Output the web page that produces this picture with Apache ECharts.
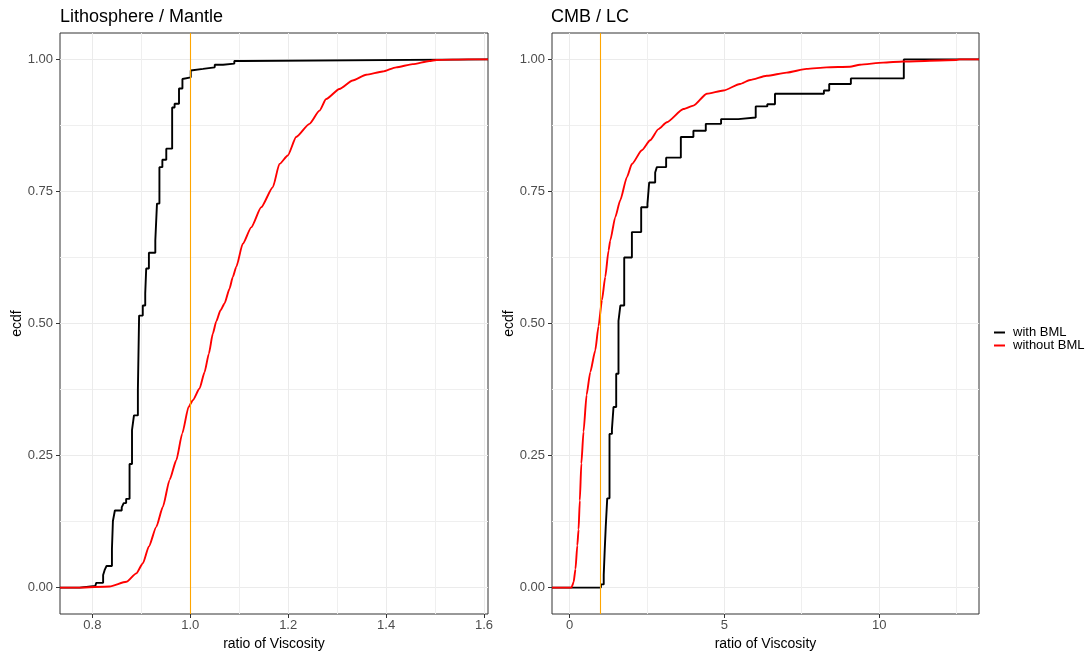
<!DOCTYPE html>
<html><head><meta charset="utf-8">
<script src="https://cdn.jsdelivr.net/npm/echarts@6/dist/echarts.min.js"></script>
<style>html,body{margin:0;padding:0;background:#fff}#c{width:1092px;height:654px}</style>
</head><body><div id="c"></div>
<script>
// ---- texts ----
const panelTitles = ['Lithosphere / Mantle', 'CMB / LC'];
const seriesNames = ['with BML', 'without BML'];
const xTitle = 'ratio of Viscosity';
const yTitle = 'ecdf';

// ---- ticks ----
const yTicks = [0, 0.25, 0.5, 0.75, 1];
const yMinor = [0.125, 0.375, 0.625, 0.875];
const leftXTicks = [0.8, 1.0, 1.2, 1.4, 1.6];
const leftXMinor = [0.9, 1.1, 1.3, 1.5];
const rightXTicks = [0, 5, 10];
const rightXMinor = [2.5, 7.5, 12.5];
const leftXRange = [0.7339, 1.6082];
const rightXRange = [-0.568, 13.226];
const yRange = [-0.05, 1.05];
const refLine = 1;

// ---- data: Lithosphere / Mantle ----
const litWithX = [0.774, 0.806, 0.808, 0.822, 0.825, 0.829, 0.840, 0.842, 0.846, 0.860, 0.864, 0.869, 0.876, 0.881, 0.885, 0.893, 0.8955, 0.903, 0.908, 0.910, 0.9155, 0.9286, 0.932, 0.937, 0.943, 0.951, 0.963, 0.968, 0.977, 0.984, 0.988, 1.001, 1.005, 1.026, 1.050, 1.067, 1.090, 1.109];
const litWithY = [0.003, 0.005, 0.009, 0.024, 0.033, 0.041, 0.073, 0.126, 0.146, 0.152, 0.160, 0.168, 0.234, 0.298, 0.326, 0.374, 0.515, 0.534, 0.557, 0.604, 0.634, 0.657, 0.727, 0.796, 0.810, 0.831, 0.909, 0.916, 0.945, 0.963, 0.966, 0.979, 0.982, 0.985, 0.990, 0.992, 0.997, 1.0];
const litWithoutX = [0.774, 0.8353, 0.8694, 0.8898, 0.9033, 0.9155, 0.9306, 0.9441, 0.9578, 0.9714, 0.9837, 0.9965, 1.0053, 1.0190, 1.0292, 1.0380, 1.0461, 1.0531, 1.0618, 1.0700, 1.0802, 1.0869, 1.0939, 1.1073, 1.1245, 1.1449, 1.1686, 1.1822, 1.1992, 1.2163, 1.2435, 1.2639, 1.2776, 1.3047, 1.3318, 1.3592, 1.3931, 1.4204, 1.4543, 1.4884, 1.5027, 1.568];
const litWithoutY = [0.000, 0.002, 0.011, 0.027, 0.046, 0.078, 0.115, 0.153, 0.204, 0.241, 0.292, 0.342, 0.355, 0.377, 0.408, 0.443, 0.481, 0.504, 0.525, 0.538, 0.566, 0.588, 0.607, 0.651, 0.682, 0.720, 0.758, 0.802, 0.818, 0.853, 0.878, 0.903, 0.925, 0.944, 0.960, 0.971, 0.977, 0.985, 0.991, 0.997, 0.999, 1.0];

// ---- data: CMB / LC ----
const cmbWithX = [1.013, 1.103, 1.135, 1.168, 1.216, 1.290, 1.368, 1.419, 1.506, 1.58, 1.64, 1.765, 2.013, 2.313, 2.516, 2.571, 2.765, 2.819, 3.119, 3.594, 4.0, 4.4, 4.894, 5.452, 6.013, 6.387, 6.635, 8.216, 8.387, 9.087, 10.797];
const cmbWithY = [0.006, 0.024, 0.071, 0.115, 0.169, 0.291, 0.300, 0.342, 0.405, 0.505, 0.534, 0.625, 0.673, 0.720, 0.727, 0.767, 0.786, 0.796, 0.814, 0.853, 0.865, 0.878, 0.887, 0.890, 0.911, 0.915, 0.935, 0.941, 0.9535, 0.964, 1.0];
const cmbWithoutX = [0.059, 0.13, 0.19, 0.25, 0.29, 0.33, 0.38, 0.45, 0.55, 0.668, 0.829, 0.935, 1.045, 1.152, 1.258, 1.313, 1.474, 1.635, 1.852, 2.013, 2.335, 2.603, 2.871, 3.142, 3.677, 4.0, 4.432, 4.968, 5.506, 5.829, 6.368, 7.013, 7.658, 8.303, 9.055, 9.377, 10.129, 10.774, 12.497, 12.6];
const cmbWithoutY = [0.0, 0.010, 0.035, 0.08, 0.11, 0.165, 0.235, 0.295, 0.365, 0.408, 0.449, 0.495, 0.544, 0.588, 0.638, 0.657, 0.701, 0.733, 0.777, 0.802, 0.828, 0.847, 0.868, 0.881, 0.906, 0.9125, 0.935, 0.941, 0.9535, 0.961, 0.969, 0.975, 0.982, 0.985, 0.986, 0.990, 0.994, 0.996, 0.999, 1.0];

// ---- build (ecdf padded to the panel edges like stat_ecdf) ----
function ecdfData(xs, ys, range) {
  const d = [[range[0], 0]];
  xs.forEach((x, i) => d.push([x, ys[i]]));
  d.push([range[1], 1]);
  return d;
}
const FONT = '"Liberation Sans", Arial, Helvetica, sans-serif';
const grids = [
  {left: 60, top: 33, width: 428, height: 581},
  {left: 552, top: 33, width: 427, height: 581}
].map(g => Object.assign(g, {show: true, borderColor: '#333333', borderWidth: 1, backgroundColor: 'transparent', containLabel: false, outerBoundsMode: 'none'}));

function mainX(gi, range, ticks, fmt) {
  return {
    type: 'value', gridIndex: gi, min: range[0], max: range[1], position: 'bottom',
    axisLine: {show: false, onZero: false},
    axisTick: {show: true, length: 4, customValues: ticks, lineStyle: {color: '#333333', width: 1}},
    axisLabel: {customValues: ticks, formatter: fmt, color: '#4D4D4D', fontSize: 13, margin: 5, fontFamily: FONT},
    splitLine: {show: true, lineStyle: {color: '#EBEBEB', width: 1}},
    name: xTitle, nameLocation: 'middle', nameGap: 20,
    nameTextStyle: {color: '#000', fontSize: 14, fontFamily: FONT}
  };
}
function minorAxis(gi, range, vals) {
  return {
    type: 'value', gridIndex: gi, min: range[0], max: range[1],
    axisLine: {show: false, onZero: false},
    axisTick: {show: false, customValues: vals},
    axisLabel: {show: false, customValues: vals},
    splitLine: {show: true, lineStyle: {color: '#EFEFEF', width: 1}}
  };
}
function mainY(gi) {
  return {
    type: 'value', gridIndex: gi, min: yRange[0], max: yRange[1], position: 'left',
    axisLine: {show: false, onZero: false},
    axisTick: {show: true, length: 4, customValues: yTicks, lineStyle: {color: '#333333', width: 1}},
    axisLabel: {customValues: yTicks, formatter: v => v.toFixed(2), color: '#4D4D4D', fontSize: 13, margin: 7, fontFamily: FONT},
    splitLine: {show: true, lineStyle: {color: '#EBEBEB', width: 1}},
    name: yTitle, nameLocation: 'middle', nameGap: 35, nameRotate: 90,
    nameTextStyle: {color: '#000', fontSize: 14, fontFamily: FONT}
  };
}

const xAxes = [
  mainX(0, leftXRange, leftXTicks, v => v.toFixed(1)),
  minorAxis(0, leftXRange, leftXMinor),
  mainX(1, rightXRange, rightXTicks, v => String(Math.round(v))),
  minorAxis(1, rightXRange, rightXMinor)
];
const yAxes = [mainY(0), minorAxis(0, yRange, yMinor), mainY(1), minorAxis(1, yRange, yMinor)];

function vline(xi, yi) {
  return {
    type: 'line', xAxisIndex: xi, yAxisIndex: yi, data: [], z: 1, silent: true,
    markLine: {silent: true, symbol: ['none', 'none'], label: {show: false},
      lineStyle: {color: '#FFA500', width: 1.1, type: 'solid'},
      emphasis: {disabled: true}, animation: false,
      data: [{xAxis: refLine}]}
  };
}
function ecdfSeries(name, color, xi, yi, data, step) {
  return {
    name, type: 'line', xAxisIndex: xi, yAxisIndex: yi, data, step: step ? 'end' : false,
    smooth: step ? false : 0.2, smoothMonotone: 'x',
    showSymbol: false, symbol: 'none', color, z: 3,
    lineStyle: {color, width: 1.9}, emphasis: {disabled: true}, clip: true
  };
}

const chart = echarts.init(document.getElementById('c'), null, {renderer: 'canvas'});
chart.setOption({
  animation: false,
  backgroundColor: '#fff',
  title: [
    {text: panelTitles[0], left: 60, top: 8, padding: 0, textStyle: {fontSize: 18, fontWeight: 'normal', color: '#000', fontFamily: FONT}},
    {text: panelTitles[1], left: 551, top: 8, padding: 0, textStyle: {fontSize: 18, fontWeight: 'normal', color: '#000', fontFamily: FONT}}
  ],
  legend: {
    orient: 'vertical', left: 994, top: 326, padding: 0, itemGap: 0,
    itemWidth: 11, itemHeight: 2, icon: 'rect',
    textStyle: {fontSize: 13, color: '#000', fontFamily: FONT, padding: [0, 0, 0, 3]},
    data: seriesNames, selectedMode: false
  },
  grid: grids,
  xAxis: xAxes,
  yAxis: yAxes,
  series: [
    vline(0, 0), vline(2, 2),
    ecdfSeries(seriesNames[0], '#000000', 0, 0, ecdfData(litWithX, litWithY, leftXRange), true),
    ecdfSeries(seriesNames[1], '#FF0000', 0, 0, ecdfData(litWithoutX, litWithoutY, leftXRange), false),
    ecdfSeries(seriesNames[0], '#000000', 2, 2, ecdfData(cmbWithX, cmbWithY, rightXRange), true),
    ecdfSeries(seriesNames[1], '#FF0000', 2, 2, ecdfData(cmbWithoutX, cmbWithoutY, rightXRange), false)
  ]
});
</script></body></html>
